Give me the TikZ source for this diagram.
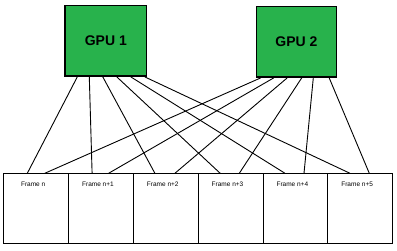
\documentclass[tikz,border=0pt]{standalone}
\usepackage{fontspec}
\setmainfont{Liberation Sans}
\definecolor{gpugreen}{RGB}{40,178,76}
\begin{document}
\begin{tikzpicture}[x=1pt, y=-1pt,
    gpu/.style={rectangle, draw, line width=1.6pt, fill=gpugreen, anchor=north west,
        minimum height=70.6pt, font=\fontsize{14}{16}\selectfont\bfseries},
    frame/.style={rectangle, draw, line width=0.9pt, anchor=north west,
        minimum width=64.8pt, minimum height=69.4pt, inner sep=0pt},
    flabel/.style={anchor=center, yshift=-11pt, xshift=-3pt, font=\fontsize{6.5}{7}\selectfont},
    link/.style={line width=0.9pt}]
    \useasboundingbox (0,0) rectangle (397,251);
    % Nodes
    \node[gpu, minimum width=81.4pt] (gpua) at (64.3, 4.7) {GPU 1};
    \node[gpu, minimum width=80pt] (gpub) at (255.7, 5.7) {GPU 2};
    \node[frame, label={[flabel]north:Frame n}] (fa) at (3.3, 173.3) {};
    \node[frame, label={[flabel]north:Frame n+1}] (fb) at (68.1, 173.3) {};
    \node[frame, label={[flabel]north:Frame n+2}] (fc) at (132.9, 173.3) {};
    \node[frame, label={[flabel]north:Frame n+3}] (fd) at (197.7, 173.3) {};
    \node[frame, label={[flabel]north:Frame n+4}] (fe) at (262.5, 173.3) {};
    \node[frame, label={[flabel]north:Frame n+5}] (ff) at (327.3, 173.3) {};

    % Edges from GPU 1
    \draw[link] ([xshift=13pt]gpua.south west) -- ([xshift=24pt]fa.north west);
    \draw[link] ([xshift=25pt]gpua.south west) -- ([xshift=24pt]fb.north west);
    \draw[link] ([xshift=38.5pt]gpua.south west) -- ([xshift=22pt]fc.north west);
    \draw[link] ([xshift=52.5pt]gpua.south west) -- ([xshift=22.5pt]fd.north west);
    \draw[link] ([xshift=66.5pt]gpua.south west) -- ([xshift=22.5pt]fe.north west);
    \draw[link] ([xshift=80.5pt]gpua.south west) -- ([xshift=22.7pt]ff.north west);
    % Edges from GPU 2
    \draw[link] ([xshift=5pt]gpub.south west) -- ([xshift=41.5pt]fa.north west);
    \draw[link] ([xshift=18pt]gpub.south west) -- ([xshift=40.5pt]fb.north west);
    \draw[link] ([xshift=31.5pt]gpub.south west) -- ([xshift=42pt]fc.north west);
    \draw[link] ([xshift=46pt]gpub.south west) -- ([xshift=41.6pt]fd.north west);
    \draw[link] ([xshift=57.6pt]gpub.south west) -- ([xshift=41.5pt]fe.north west);
    \draw[link] ([xshift=73.5pt]gpub.south west) -- ([xshift=42pt]ff.north west);
\end{tikzpicture}
\end{document}
